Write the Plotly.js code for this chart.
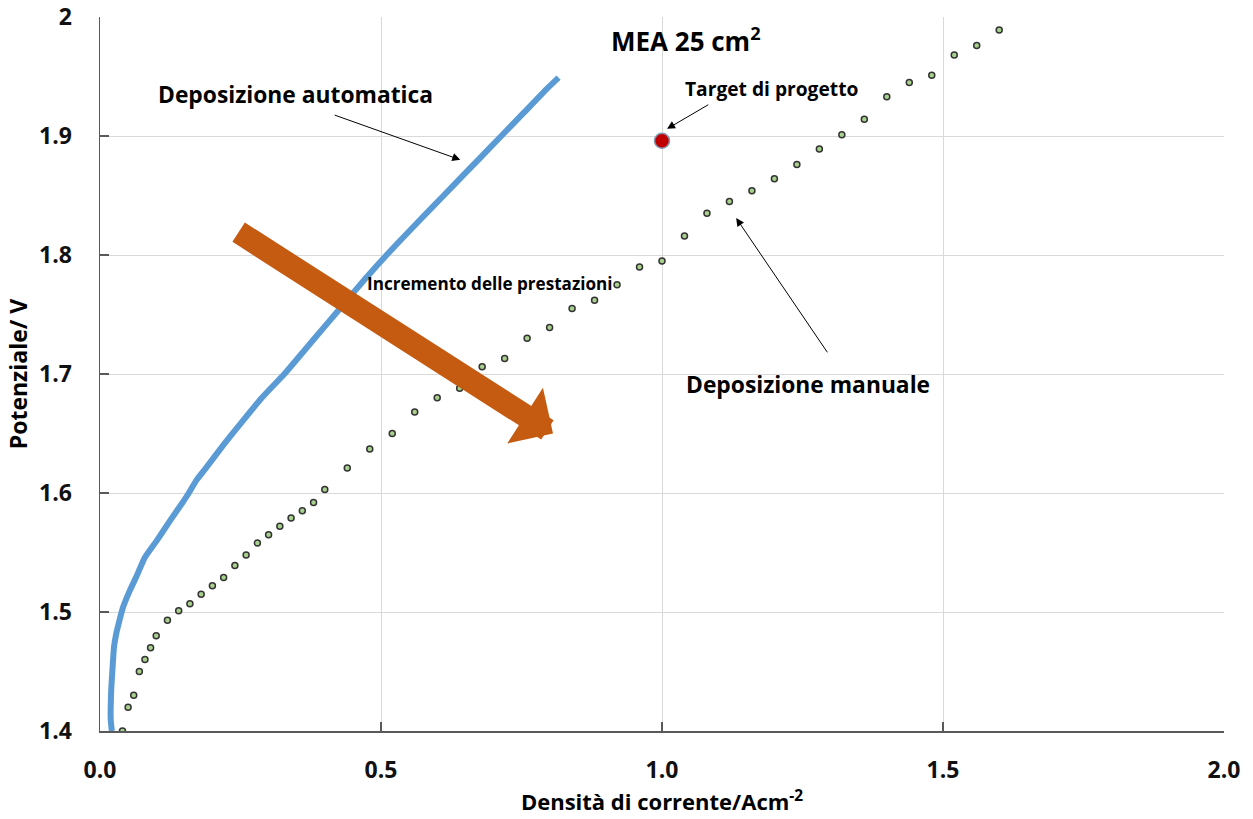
<!DOCTYPE html>
<html>
<head>
<meta charset="utf-8">
<script src="https://cdn.plot.ly/plotly-3.0.1.min.js"></script>
<style>
html,body{margin:0;padding:0;background:#fff;}
#chart{width:1253px;height:819px;}
</style>
</head>
<body>
<div id="chart"></div>
<script>
// Deposizione automatica (blue curve)
var autoX = [0.021,0.019,0.019,0.020,0.021,0.023,0.025,0.029,0.033,0.041,0.053,0.065,0.080,0.101,0.125,0.147,0.158,0.172,0.187,0.219,0.253,0.288,0.328,0.364,0.400,0.436,0.472,0.510,0.550,0.591,0.632,0.673,0.714,0.755,0.796,0.816];
var autoY = [1.400,1.410,1.420,1.435,1.443,1.458,1.471,1.482,1.490,1.504,1.518,1.530,1.546,1.560,1.577,1.592,1.600,1.611,1.620,1.640,1.660,1.680,1.700,1.720,1.740,1.760,1.780,1.800,1.820,1.840,1.860,1.880,1.900,1.920,1.940,1.949];

// Deposizione manuale (green dots)
var manualX = [0.04,0.05,0.06,0.07,0.08,0.09,0.10,0.12,0.14,0.16,0.18,0.20,0.22,0.24,0.26,0.28,0.30,0.32,0.34,0.36,0.38,0.40,0.44,0.48,0.52,0.56,0.60,0.64,0.68,0.72,0.76,0.80,0.84,0.88,0.92,0.96,1.00,1.04,1.08,1.12,1.16,1.20,1.24,1.28,1.32,1.36,1.40,1.44,1.48,1.52,1.56,1.60];
var manualY = [1.400,1.420,1.430,1.450,1.460,1.470,1.480,1.493,1.501,1.507,1.515,1.522,1.529,1.539,1.548,1.558,1.565,1.572,1.579,1.585,1.592,1.603,1.621,1.637,1.650,1.668,1.680,1.688,1.706,1.713,1.730,1.739,1.755,1.762,1.775,1.790,1.795,1.816,1.835,1.845,1.854,1.864,1.876,1.889,1.901,1.914,1.933,1.945,1.951,1.968,1.976,1.989];

// Target di progetto
var targetX = [1.0];
var targetY = [1.896];

// Tick labels
var xTickVals = [0, 0.5, 1.0, 1.5, 2.0];
var xTickText = ['0.0', '0.5', '1.0', '1.5', '2.0'];
var yTickVals = [1.4, 1.5, 1.6, 1.7, 1.8, 1.9, 2.0];
var yTickText = ['1.4', '1.5', '1.6', '1.7', '1.8', '1.9', '2'];

var labelFont = '"Open Sans", Lato, sans-serif';
var tickFont = {family: labelFont, size: 23, color: '#111', weight: 'bold'};

var traces = [
  {
    x: autoX, y: autoY, mode: 'lines', type: 'scatter',
    line: {color: '#5B9BD5', width: 6, shape: 'spline', smoothing: 0.5},
    name: 'Deposizione automatica', hoverinfo: 'x+y'
  },
  {
    x: manualX, y: manualY, mode: 'markers', type: 'scatter',
    marker: {size: 6, color: '#A9D18E', line: {color: '#333333', width: 1.5}},
    name: 'Deposizione manuale', hoverinfo: 'x+y'
  },
  {
    x: targetX, y: targetY, mode: 'markers', type: 'scatter',
    marker: {size: 15, color: '#C00000', line: {color: '#8497B0', width: 1.5}},
    name: 'Target di progetto', hoverinfo: 'x+y'
  }
];

function txt(t, x, y, size) {
  return {text: '<b>' + t + '</b>', x: x, y: y, xref: 'x', yref: 'y', showarrow: false,
          font: {family: labelFont, size: size, color: '#000'}};
}
function arr(x, y, ax, ay) {
  return {text: '', x: x, y: y, ax: ax, ay: ay, xref: 'x', yref: 'y', axref: 'x', ayref: 'y',
          showarrow: true, arrowhead: 2, arrowsize: 1.6, arrowwidth: 1, arrowcolor: '#000'};
}

var annotations = [
  txt('MEA 25 cm<sup>2</sup>', 1.043, 1.981, 26),
  txt('Deposizione automatica', 0.347, 1.935, 22.8),
  txt('Target di progetto', 1.194, 1.9395, 19.2),
  txt('Incremento delle prestazioni', 0.694, 1.776, 17.1),
  txt('Deposizione manuale', 1.260, 1.691, 22.8),
  arr(0.641, 1.880, 0.415, 1.918),
  arr(1.009, 1.906, 1.085, 1.927),
  arr(1.132, 1.831, 1.296, 1.717),
  {text: '', x: 0.806, y: 1.650, ax: 0.244, ay: 1.820, xref: 'x', yref: 'y', axref: 'x', ayref: 'y',
   showarrow: true, arrowhead: 1, arrowsize: 0.48, arrowwidth: 23, arrowcolor: '#C55A11'}
];

var layout = {
  width: 1253, height: 819,
  margin: {l: 100, r: 29, t: 17, b: 88},
  paper_bgcolor: '#fff', plot_bgcolor: '#fff',
  showlegend: false,
  xaxis: {
    range: [0, 2.0], tickvals: xTickVals, ticktext: xTickText,
    showgrid: true, gridcolor: '#D9D9D9', gridwidth: 1,
    showline: true, linecolor: '#595959', linewidth: 1.5,
    ticks: 'inside', ticklen: 9, tickcolor: '#595959', tickwidth: 1.5,
    tickfont: tickFont, ticklabelstandoff: 18, zeroline: false,
    title: {text: '<b>Densità di corrente/Acm<sup>-2</sup></b>', font: {family: labelFont, size: 22, color: '#000'}, standoff: 7}
  },
  yaxis: {
    range: [1.4, 2.0], tickvals: yTickVals, ticktext: yTickText,
    showgrid: true, gridcolor: '#D9D9D9', gridwidth: 1,
    showline: true, linecolor: '#595959', linewidth: 1.5,
    ticks: 'inside', ticklen: 9, tickcolor: '#595959', tickwidth: 1.5,
    tickfont: tickFont, ticklabelstandoff: 22, zeroline: false,
    title: {text: '<b>Potenziale/ V</b>', font: {family: labelFont, size: 23, color: '#000'}, standoff: 5}
  },
  annotations: annotations
};

Plotly.newPlot('chart', traces, layout, {displayModeBar: false, staticPlot: true});
</script>
</body>
</html>
